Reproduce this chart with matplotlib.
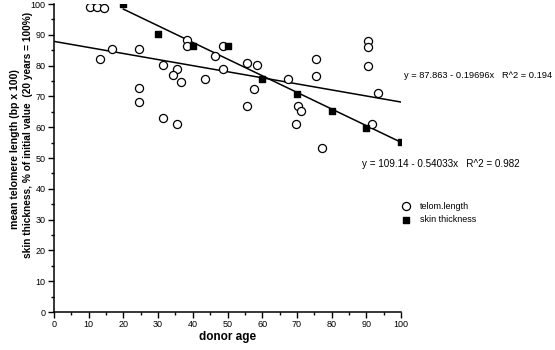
import matplotlib
matplotlib.use("Agg")
import matplotlib.pyplot as plt
import numpy as np

plt.rcParams['font.family'] = ['Liberation Sans', 'DejaVu Sans']

# telomere length data (donor age, mean telomere length bp x 100)
telom_age = [10.3, 12.5, 14.5, 13.3, 16.6, 24.4, 24.4, 24.4, 31.4, 31.4,
             35.4, 34.4, 36.5, 35.4, 38.4, 38.4, 43.5, 46.4, 48.7, 48.7,
             55.6, 58.5, 57.5, 55.6, 67.5, 75.4, 75.4, 70.2, 71.3, 69.6,
             77.3, 90.6, 90.6, 90.6, 93.4, 91.5]
telom_len = [99.0, 99.0, 98.6, 82.2, 85.3, 85.3, 72.7, 68.3, 80.1, 62.9,
             78.8, 76.8, 74.7, 61.0, 88.3, 86.4, 75.6, 83.1, 86.4, 78.9,
             81.0, 80.1, 72.5, 67.0, 75.6, 82.0, 76.6, 67.0, 65.4, 60.9,
             53.3, 88.1, 86.1, 79.9, 71.1, 61.0]

# skin thickness data
skin_age = [20, 30, 40, 50, 60, 70, 80, 90, 100]
skin_val = [100.0, 90.2, 86.5, 86.5, 75.7, 70.9, 65.3, 59.7, 55.3]

# regression coefficients (intercept, slope) as printed
telom_fit = (87.863, -0.19696)
skin_fit = (109.14, -0.54033)
telom_fit_range = (0, 100)
skin_fit_range = (20, 100)

fig = plt.figure(figsize=(5.55, 3.5), dpi=100)
ax = fig.add_axes([54/555, 1 - 312/350, (401-54)/555, (312-4)/350])

ax.scatter(telom_age, telom_len, s=34, facecolors='white', edgecolors='black',
           linewidths=0.9, zorder=3, label='telom.length')
ax.scatter(skin_age, skin_val, s=14, marker='s', color='black', zorder=4,
           label='skin thickness')

for (b, m), (x0, x1) in [(telom_fit, telom_fit_range), (skin_fit, skin_fit_range)]:
    xs = np.array([x0, x1])
    ax.plot(xs, b + m * xs, color='black', lw=1.1, zorder=2)

ax.set_xlim(0, 100)
ax.set_ylim(0, 100)
ax.set_xticks(np.arange(0, 101, 10))
ax.set_yticks(np.arange(0, 101, 10))
ax.set_xticks(np.arange(5, 100, 10), minor=True)
ax.set_yticks(np.arange(5, 100, 10), minor=True)
ax.tick_params(which='major', length=4, width=1, labelsize=6.5, pad=2)
ax.tick_params(which='minor', length=2, width=1)
for s in ['top', 'right']:
    ax.spines[s].set_visible(False)
for s in ['left', 'bottom']:
    ax.spines[s].set_linewidth(1.1)
ax.patch.set_visible(False)

ax.set_xlabel('donor age', fontsize=8.5, fontweight='bold', labelpad=1)
fig.text(15/555, 1 - 149/350, 'mean telomere length (bp x 100)', rotation=90,
         ha='center', va='center', fontsize=7.6, fontweight='bold')
fig.text(28/555, 1 - 135/350, 'skin thickness, % of initial value  (20 years = 100%)',
         rotation=90, ha='center', va='center', fontsize=7.3, fontweight='bold')

fig.text(404/555, 1 - 76/350, 'y = 87.863 - 0.19696x   R^2 = 0.194',
         ha='left', va='center', fontsize=6.7)
fig.text(362/555, 1 - 164/350, 'y = 109.14 - 0.54033x   R^2 = 0.982',
         ha='left', va='center', fontsize=7.1)

fig.legend(loc='upper left', bbox_to_anchor=(396/555, 1 - 197/350), frameon=False,
           fontsize=6.5, handletextpad=1.0, labelspacing=0.55, borderpad=0,
           handlelength=1.2)

fig.savefig('out.png', dpi=100)
